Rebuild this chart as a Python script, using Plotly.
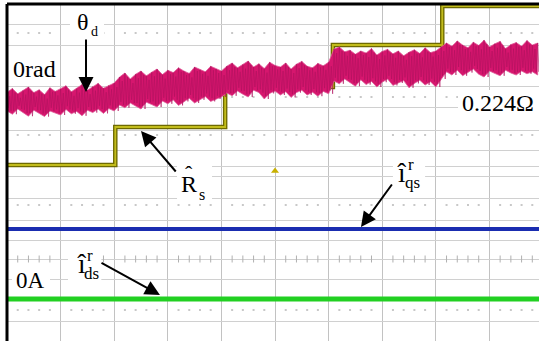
import plotly.graph_objects as go

# ---------------- data (x in time divisions, y in vertical divisions) ----------------
t_end = 9.925

# R_s estimate (yellow staircase)
rs_t = [0.0, 2.02, 4.07, 6.08, 8.12, 9.925]
rs_level = [0.15, 1.1, 2.1, 3.15, 4.125, 4.125]

# theta_d (noisy magenta trace) : upper / lower envelope
theta_hi = [1.97, 2.06, 1.93, 2.01, 2.1, 1.96, 2.03, 1.91, 2.08, 1.99, 2.05, 2.13, 1.98, 2.06, 2.16, 2.02, 2.11, 2.19, 2.07, 2.14, 2.2,
            2.35, 2.45, 2.3, 2.42, 2.5, 2.38, 2.47, 2.55, 2.41, 2.52, 2.46, 2.58, 2.5, 2.44, 2.6, 2.53, 2.48, 2.62, 2.55, 2.5,
            2.62, 2.7, 2.58, 2.66, 2.75, 2.6, 2.68, 2.56, 2.72, 2.64, 2.6, 2.7, 2.55, 2.67, 2.74, 2.62, 2.58, 2.69, 2.63, 2.72,
            3.05, 3.1, 2.98, 3.02, 2.92, 3.0, 2.95, 3.06, 2.9, 2.99, 3.04, 2.93, 3.0, 2.88, 2.97, 3.03, 2.94, 3.08, 2.96, 3.0, 3.1,
            3.2, 3.12, 3.25, 3.15, 3.08, 3.22, 3.14, 3.27, 3.1, 3.18, 3.24, 3.06, 3.16, 3.21, 3.12, 3.26, 3.15, 3.2]
theta_lo = [1.5, 1.42, 1.55, 1.45, 1.37, 1.52, 1.44, 1.36, 1.5, 1.46, 1.4, 1.54, 1.43, 1.49, 1.38, 1.52, 1.46, 1.55, 1.44, 1.56, 1.5,
            1.65, 1.58, 1.7, 1.62, 1.55, 1.72, 1.66, 1.6, 1.75, 1.68, 1.78, 1.64, 1.74, 1.82, 1.7, 1.78, 1.86, 1.74, 1.8, 1.85,
            1.95, 1.88, 2.0, 1.92, 1.85, 2.02, 1.96, 1.8, 1.94, 2.0, 1.9, 1.98, 1.84, 1.96, 2.02, 1.9, 1.97, 1.87, 1.99, 1.93,
            2.25, 2.18, 2.3, 2.2, 2.12, 2.28, 2.16, 2.24, 2.1, 2.22, 2.3, 2.14, 2.2, 2.26, 2.08, 2.19, 2.27, 2.15, 2.23, 2.1, 2.3,
            2.48, 2.4, 2.52, 2.38, 2.46, 2.55, 2.42, 2.35, 2.5, 2.44, 2.38, 2.52, 2.45, 2.4, 2.5, 2.43, 2.48, 2.4]
theta_t = [round(0.1 * k, 1) for k in range(len(theta_hi))]

# currents
iqs_t = [0.0, 2.5, 5.0, 7.5, 9.925]
iqs = [-1.45, -1.45, -1.45, -1.45, -1.45]
ids_t = [0.0, 2.5, 5.0, 7.5, 9.925]
ids = [-3.2, -3.2, -3.2, -3.2, -3.2]

# ---------------- styling helpers ----------------
SERIF = "Liberation Serif"
hgrid = [3.675, 3.15, 2.125, 1.6, 1.025, 0.525, 0.125, -0.125, -0.675, -1.225, -1.725, -2.2, -2.7, -3.75]
dot_rows = [3.45, 1.85, 0.9, -0.85, -3.475]
tick_row = -2.2

fig = go.Figure()

# dotted rows of minor marks
dx, dy = [], []
for r in dot_rows:
    for k in range(10):
        for m in (0.2, 0.4, 0.6, 0.8):
            dx.append(k + m)
            dy.append(r)
fig.add_trace(go.Scatter(x=dx, y=dy, mode="markers",
                         marker=dict(symbol="square", size=2, color="#c8c8c8"),
                         hoverinfo="skip"))
tx = [k + m for k in range(10) for m in (0.2, 0.4, 0.6, 0.8)]
fig.add_trace(go.Scatter(x=tx, y=[tick_row] * len(tx), mode="markers",
                         marker=dict(symbol="line-ns", size=5, line=dict(width=1, color="#b0b0b0")),
                         hoverinfo="skip"))

# R_s staircase
fig.add_trace(go.Scatter(x=rs_t, y=rs_level, mode="lines", line_shape="hv",
                         line=dict(color="#6e6a00", width=4.5), hoverinfo="skip"))
fig.add_trace(go.Scatter(x=rs_t, y=rs_level, mode="lines", line_shape="hv",
                         line=dict(color="#c2bc1c", width=1.8), hoverinfo="skip"))

# theta_d band
fig.add_trace(go.Scatter(x=theta_t + theta_t[::-1], y=theta_hi + theta_lo[::-1],
                         mode="lines", fill="toself", fillcolor="#d6166e",
                         line=dict(color="#e0609a", width=0.8), hoverinfo="skip"))
# scope-like dense strokes inside the band
zx, zy = [], []
for t, h, l in zip(theta_t, theta_hi, theta_lo):
    zx += [t, t + 0.025, t + 0.05, t + 0.075]
    zy += [h, l + 0.08, h - 0.1, l]
fig.add_trace(go.Scatter(x=zx, y=zy, mode="lines",
                         line=dict(color="#b0105e", width=0.6), hoverinfo="skip"))

# currents
fig.add_trace(go.Scatter(x=iqs_t, y=iqs, mode="lines",
                         line=dict(color="#1a2db0", width=4), hoverinfo="skip"))
fig.add_trace(go.Scatter(x=ids_t, y=ids, mode="lines",
                         line=dict(color="#22d022", width=5), hoverinfo="skip"))

# trigger marker
fig.add_trace(go.Scatter(x=[5.0], y=[0.0], mode="markers",
                         marker=dict(symbol="triangle-up", size=7, color="#c8b000"),
                         hoverinfo="skip"))

# white label backgrounds
boxes = [(1.175, 1.81, 3.275, 4.075),
         (8.414, 9.925, 1.275, 2.025),
         (0.093, 0.802, -3.025, -2.425),
         (3.172, 3.825, -0.725, 0.325),
         (7.2, 7.8, -0.65, 0.475),
         (1.138, 1.76, -2.85, -1.85)]
for x0, x1, y0, y1 in boxes:
    fig.add_shape(type="rect", x0=x0, x1=x1, y0=y0, y1=y1, xref="x", yref="y",
                  fillcolor="white", line=dict(width=0), layer="above")

# frame (left and top)
fig.add_shape(type="line", xref="paper", yref="paper", x0=0, x1=0, y0=0, y1=1,
              line=dict(color="black", width=3))
fig.add_shape(type="line", xref="paper", yref="paper", x0=0, x1=1, y0=1, y1=1,
              line=dict(color="black", width=3))

# arrows (tail -> tip)
arrows = [((1.474, 3.325), (1.474, 1.975)),
          ((3.172, -0.05), (2.5, 1.0)),
          ((7.201, -0.3), (6.604, -1.4)),
          ((1.735, -2.275), (2.854, -3.1))]
for (ax_, ay_), (x_, y_) in arrows:
    fig.add_annotation(x=x_, y=y_, ax=ax_, ay=ay_, xref="x", yref="y", axref="x", ayref="y",
                       text="", showarrow=True, arrowhead=2, arrowsize=1.5, arrowwidth=2,
                       arrowcolor="black")

def label(x, y, txt, size):
    fig.add_annotation(x=x, y=y, xref="x", yref="y", text=txt, showarrow=False,
                       font=dict(family=SERIF, size=size, color="black"))

label(0.52, 2.56, "0rad", 24)
label(9.16, 1.69, "0.224Ω", 24)
label(0.43, -2.74, "0A", 23)
label(1.41, 3.72, "θ", 24)
label(1.63, 3.5, "d", 14)
label(3.40, -0.33, "R", 24)
label(3.40, -0.06, "ˆ", 22)
label(3.64, -0.58, "s", 16)
label(7.37, -0.05, "î", 27)
label(7.53, 0.16, "r", 17)
label(7.57, -0.28, "qs", 17)
label(1.39, -2.33, "î", 27)
label(1.55, -2.11, "r", 17)
label(1.58, -2.57, "ds", 17)

fig.update_layout(
    width=539, height=341,
    margin=dict(l=7, r=0, t=4, b=0),
    paper_bgcolor="white", plot_bgcolor="white",
    showlegend=False,
    xaxis=dict(range=[0, t_end], tickvals=list(range(1, 10)), showgrid=True,
               gridcolor="#c2c2c2", gridwidth=1, showticklabels=False, zeroline=False,
               showline=False, ticks="", fixedrange=True),
    yaxis=dict(range=[-4.25, 4.175], tickvals=hgrid, showgrid=True,
               gridcolor="#d0d0d0", gridwidth=1, showticklabels=False, zeroline=False,
               showline=False, ticks="", fixedrange=True),
)

fig.write_html("out.html", config={"displayModeBar": False},
               post_script="document.body.style.margin='0';document.body.style.overflow='hidden';")
